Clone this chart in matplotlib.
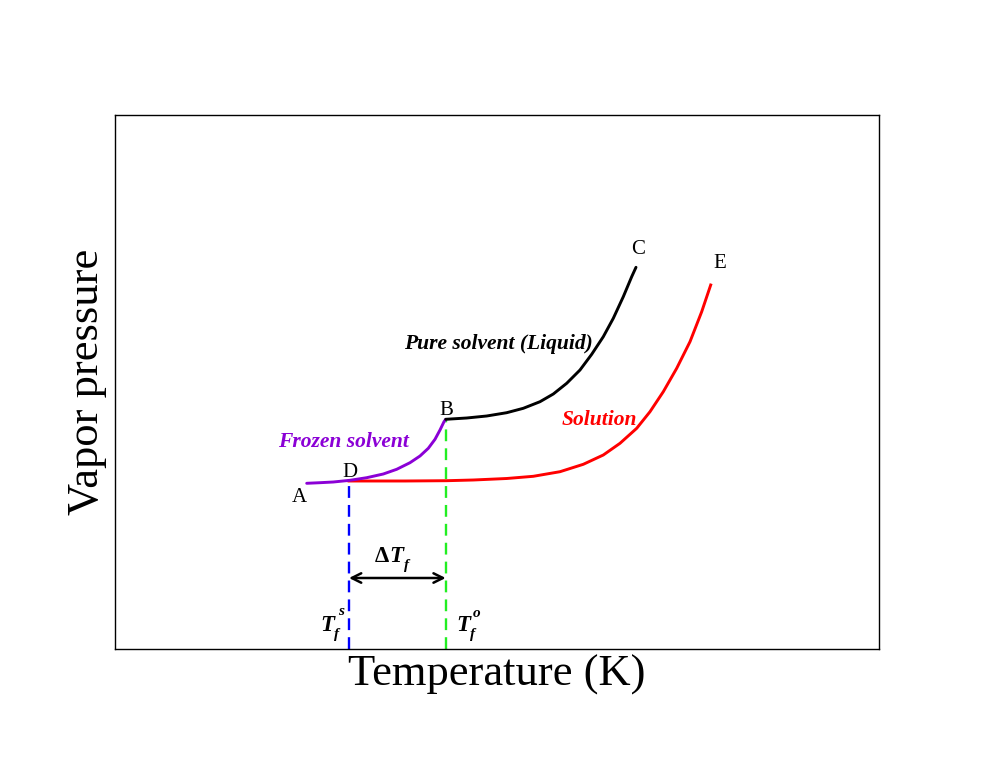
import matplotlib
matplotlib.use("Agg")
import matplotlib.pyplot as plt

# ---- data (arbitrary units) ----
frozen_T = [191.7, 205, 218.3, 235, 251.7, 268.3, 281.7, 295, 305, 313.3, 320, 325, 329, 330.7]
frozen_P = [165.7, 166.3, 167, 168.7, 171.3, 175, 179.7, 186.3, 193, 200.7, 209.7, 219, 227.3, 229.7]

liquid_T = [330.7, 351.7, 371.7, 391.7, 408.3, 425, 438.3, 451.7, 465, 476.7, 488.3, 498.3, 508.3, 516.7, 521]
liquid_P = [229.7, 231, 233, 236.3, 240.7, 247.3, 255, 265.7, 279, 294.7, 312.3, 330.7, 352.3, 372.3, 381.7]

solution_T = [234, 290, 331.7, 358.3, 391.7, 418.3, 445, 468.3, 488.3, 505, 521.7, 535, 548.3, 561.7, 575, 586.7, 595.7]
solution_P = [168, 168, 168.3, 169, 170.5, 172.7, 177.3, 184.7, 194, 205.7, 220.7, 237.3, 257.3, 280.7, 307.3, 337.3, 364]

Tf_s = 234      # freezing point of solution
Tf_o = 330.7    # freezing point of pure solvent
P_D = 168
P_B = 229.7
arrow_P = 71

point_labels = ["A", "B", "C", "D", "E"]
point_T = [184, 331.7, 523, 235, 605]
point_P = [147, 234, 395, 172, 380.7]

plt.rcParams['font.family'] = ['Liberation Serif', 'DejaVu Serif']

fig = plt.figure(figsize=(9.9, 7.65), dpi=100)
ax = fig.add_axes([115/990, 1 - 649/765, (879-115)/990, (649-115)/765])
ax.set_xlim(0, 764)
ax.set_ylim(0, 534)

purple = '#8b00d6'
green = '#22ee22'

ax.plot(frozen_T, frozen_P, color=purple, lw=2.1, solid_capstyle='round', solid_joinstyle='round', zorder=3)
ax.plot(liquid_T, liquid_P, color='black', lw=2.1, solid_capstyle='round', solid_joinstyle='round', zorder=3)
ax.plot(solution_T, solution_P, color='red', lw=2.1, solid_joinstyle='round', zorder=2)

ax.plot([Tf_s, Tf_s], [0, P_D], color='blue', lw=1.7, ls=(0, (5, 3)), zorder=1)
ax.plot([Tf_o, Tf_o], [0, P_B], color=green, lw=1.7, ls=(0, (5, 3)), zorder=1)

ax.annotate('', xy=(Tf_s, arrow_P), xytext=(Tf_o, arrow_P),
            arrowprops=dict(arrowstyle='<->', color='black', lw=1.8,
                            shrinkA=0, shrinkB=0, mutation_scale=17))

for lab, t, p in zip(point_labels, point_T, point_P):
    ax.text(t, p, lab, ha='center', va='baseline', fontsize=15)

bi = dict(fontweight='bold', fontstyle='italic', va='baseline', ha='left')
ax.text(228, 202, 'Frozen solvent', color=purple, fontsize=15.5,
        fontweight='bold', fontstyle='italic', ha='center', va='baseline')
ax.text(383, 299.7, 'Pure solvent (Liquid)', color='black', fontsize=15.5,
        fontweight='bold', fontstyle='italic', ha='center', va='baseline')
ax.text(484, 224, 'Solution', color='red', fontsize=15.5,
        fontweight='bold', fontstyle='italic', ha='center', va='baseline')

# Delta T_f
ax.text(260, 87, '\u0394', fontsize=16.5, fontweight='bold', va='baseline', ha='left')
ax.text(274, 87, 'T', fontsize=16.5, **bi)
ax.text(289, 79.5, 'f', fontsize=11, **bi)
# T_f^s
ax.text(205.5, 18, 'T', fontsize=16.5, **bi)
ax.text(219.5, 11, 'f', fontsize=11, **bi)
ax.text(223.5, 34, 's', fontsize=11, **bi)
# T_f^o
ax.text(341, 18, 'T', fontsize=16.5, **bi)
ax.text(355, 11, 'f', fontsize=11, **bi)
ax.text(357.5, 32, 'o', fontsize=11, **bi)

ax.set_xticks([])
ax.set_yticks([])
for s in ax.spines.values():
    s.set_linewidth(1.0)

ax.set_xlabel('Temperature (K)', fontsize=32, labelpad=4)
ax.set_ylabel('Vapor pressure', fontsize=32, labelpad=6)

fig.savefig('out.png', dpi=100)
